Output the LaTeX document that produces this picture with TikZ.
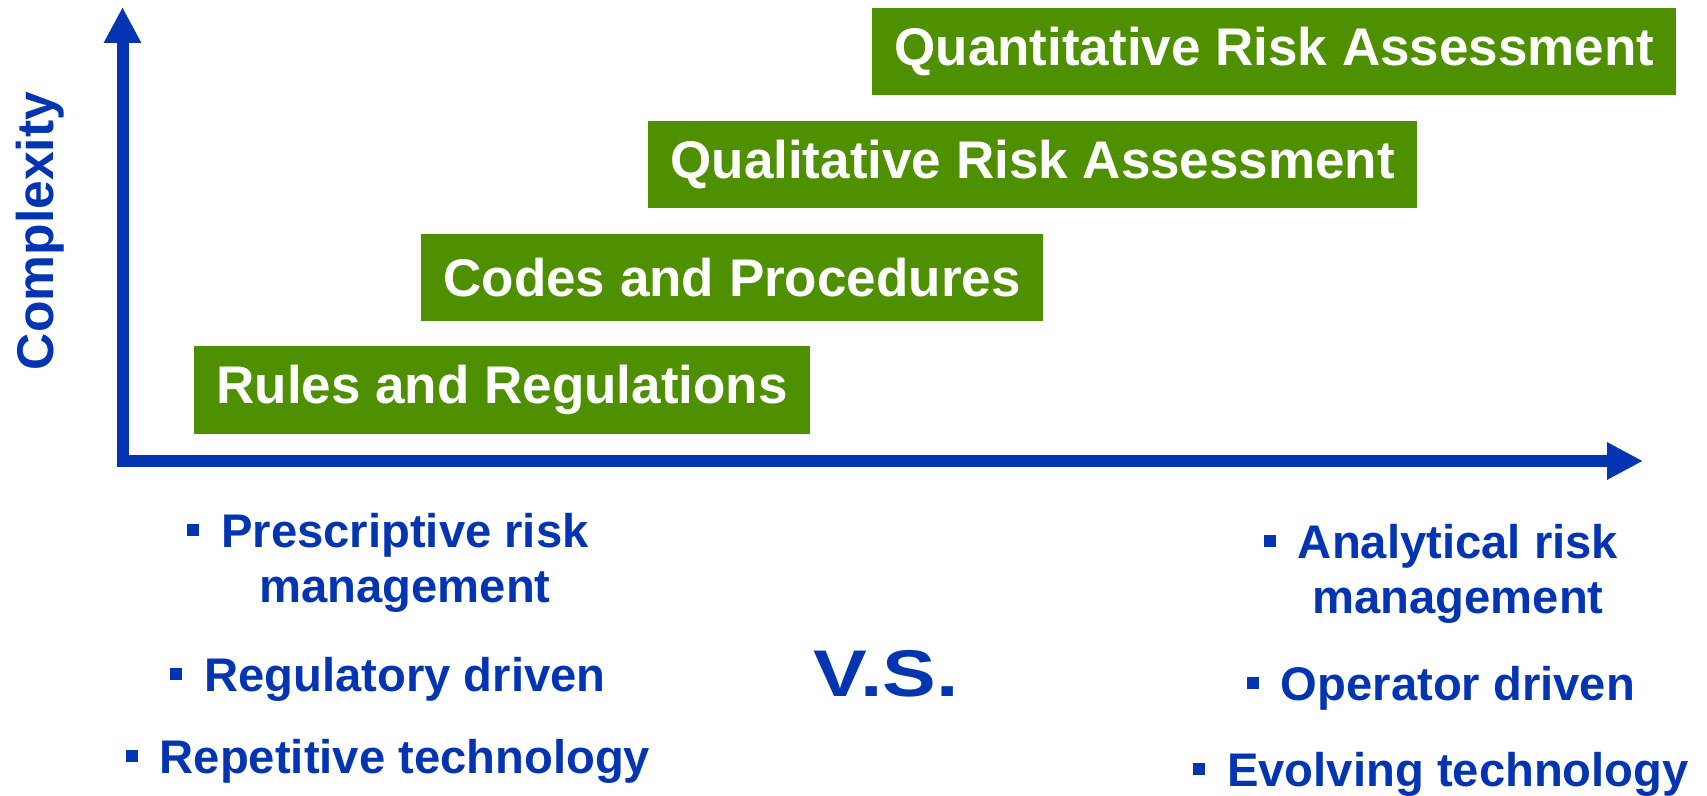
\documentclass[tikz,border=0pt]{standalone}
\usepackage{fontspec}
\setmainfont{Liberation Sans}
\usetikzlibrary{arrows.meta, positioning}

\definecolor{axisblue}{RGB}{3,53,178}
\definecolor{stepgreen}{RGB}{78,144,0}
\newcommand{\sqbul}{\rule[5.5pt]{6pt}{6pt}\hspace{11pt}}

\begin{document}
\begin{tikzpicture}[x=0.5pt, y=-0.5pt,
    riskbox/.style={rectangle, fill=stepgreen, text=white, font=\fontsize{26.5}{30}\selectfont\bfseries, minimum height=43.5pt, inner xsep=11pt},
    pointtext/.style={text=axisblue, font=\fontsize{23.6}{27.5}\selectfont\bfseries, align=center, inner sep=0pt, anchor=base},
    axisline/.style={draw=axisblue, line width=6pt, line cap=rect, -{Triangle[length=18pt, width=17.5pt]}}
]
    \useasboundingbox (0,0) rectangle (1707,796);

    % Axes
    \coordinate (origin) at (122.5,461);
    \coordinate (ytip) at (122.5,7);
    \coordinate (xtip) at (1643,461);
    \draw[axisline] (origin) -- (ytip);
    \draw[axisline] (origin) -- (xtip);
    \node[rotate=90, text=axisblue, font=\fontsize{25.8}{30}\selectfont\bfseries] (ylabel) at (40,231) {Complexity};

    % Staircase of approaches
    \node[riskbox, anchor=west] (rules) at (194,390) {Rules and Regulations};
    \node[riskbox, anchor=south west] (codes) at ([xshift=113.5pt, yshift=12.5pt]rules.north west) {Codes and Procedures};
    \node[riskbox, anchor=south west] (quali) at ([xshift=113.5pt, yshift=12.5pt]codes.north west) {Qualitative Risk Assessment};
    \node[riskbox, anchor=south west] (quanti) at ([xshift=112pt, yshift=12.5pt]quali.north west) {Quantitative Risk Assessment};

    % Prescriptive side
    \node[pointtext] (presc) at (405,602) {\llap{\sqbul}Prescriptive risk\\management};
    \node[pointtext] (regul) at (405,691) {\llap{\sqbul}Regulatory driven};
    \node[pointtext] (repet) at (405,773) {\llap{\sqbul}Repetitive technology};

    \node[text=axisblue, font=\fontsize{33}{40}\selectfont\bfseries, xscale=1.22] (versus) at (886,674) {V.S.};

    % Analytical side
    \node[pointtext] (analy) at (1458,613) {\llap{\sqbul}Analytical risk\\management};
    \node[pointtext] (operat) at (1458,700) {\llap{\sqbul}Operator driven};
    \node[pointtext] (evolv) at (1458,786) {\llap{\sqbul}Evolving technology};
\end{tikzpicture}
\end{document}
